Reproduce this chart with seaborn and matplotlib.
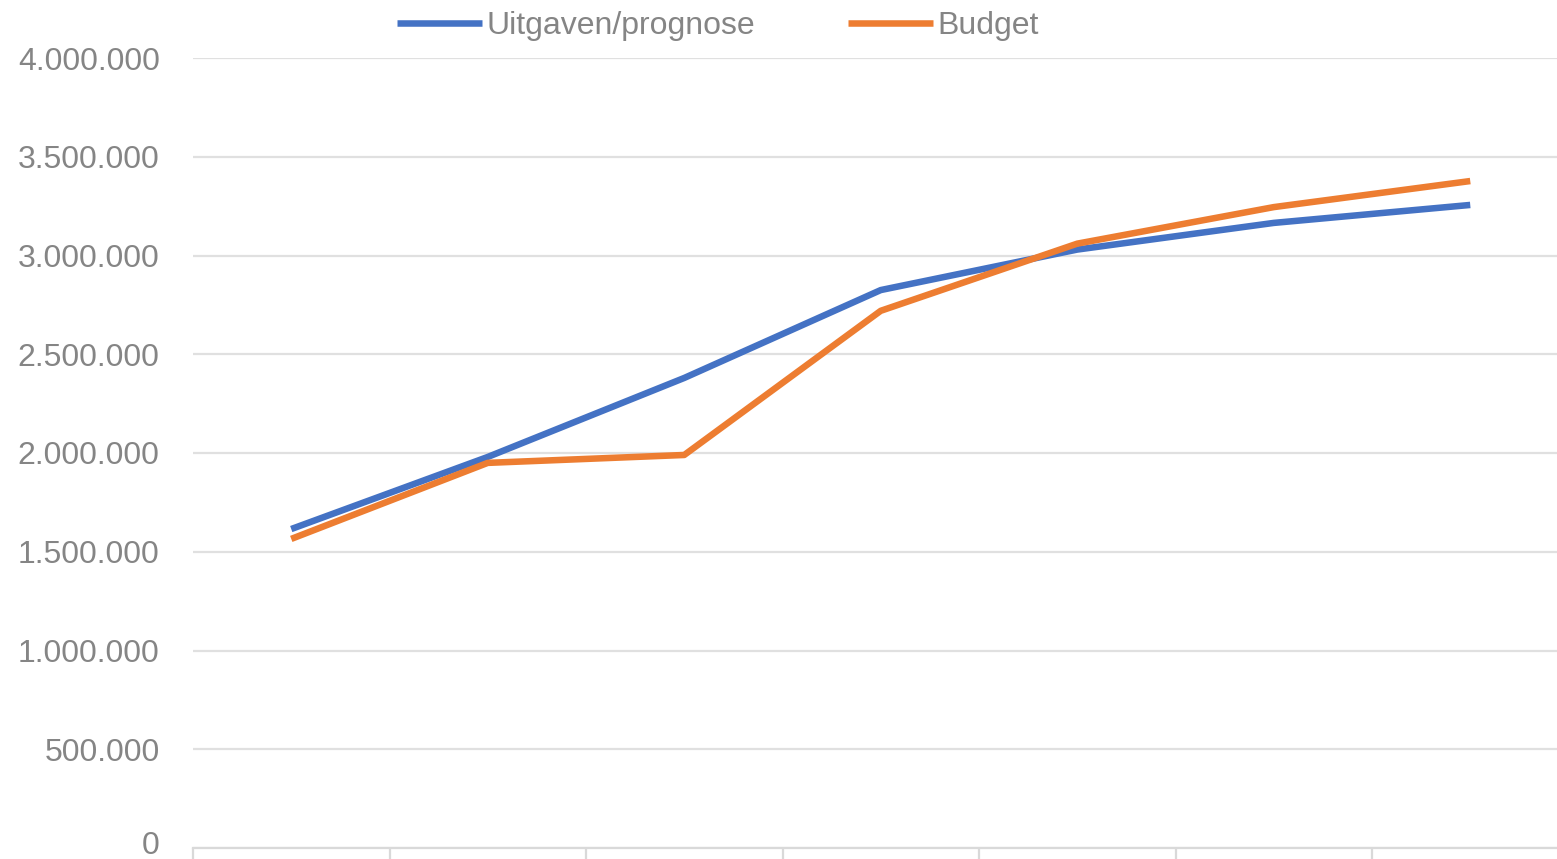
import matplotlib
matplotlib.use("Agg")
import matplotlib.pyplot as plt
from matplotlib.ticker import FuncFormatter, FixedLocator, NullFormatter
from matplotlib.transforms import ScaledTranslation
from matplotlib.lines import Line2D
import seaborn as sns
import pandas as pd

# Data
categories = ["1", "2", "3", "4", "5", "6", "7"]
uitgaven = [1615000, 1980000, 2380000, 2825000, 3030000, 3165000, 3256000]
budget = [1565000, 1950000, 1990000, 2720000, 3060000, 3245000, 3377000]
series_names = ["Uitgaven/prognose", "Budget"]
y_ticks = [0, 500000, 1000000, 1500000, 2000000, 2500000, 3000000, 3500000, 4000000]

df = pd.DataFrame({
    "cat": categories * 2,
    "pos": list(range(len(categories))) * 2,
    "value": uitgaven + budget,
    "series": [series_names[0]] * len(categories) + [series_names[1]] * len(categories),
})

sns.set_theme(style="white")
plt.rcParams["font.family"] = ["Liberation Sans", "DejaVu Sans"]

W, H = 1557, 859
fig = plt.figure(figsize=(W / 100, H / 100), dpi=100)
left, right = 193 / W, 1568.5 / W
bottom, top = (H - 848) / H, (H - 58) / H
ax = fig.add_axes([left, bottom, right - left, top - bottom])

palette = {"Uitgaven/prognose": "#4472C4", "Budget": "#ED7D31"}
sns.lineplot(data=df, x="pos", y="value", hue="series", palette=palette,
             linewidth=4.7, ax=ax, legend=False, sort=False)
for line in ax.lines:
    line.set_solid_capstyle("butt")
    line.set_solid_joinstyle("round")

n = len(categories)
ax.set_xlim(-0.5, n - 0.5)
ax.set_ylim(0, 4000000)
ax.set_yticks(y_ticks)
ax.yaxis.set_major_formatter(FuncFormatter(lambda v, p: f"{int(v):,}".replace(",", ".")))
ax.xaxis.set_major_locator(FixedLocator([i - 0.5 for i in range(n + 1)]))
ax.xaxis.set_major_formatter(NullFormatter())

ax.grid(axis="y", color="#e0e0e0", linewidth=1.6)
ax.grid(axis="x", visible=False)
ax.set_axisbelow(True)
for s in ["top", "right", "left"]:
    ax.spines[s].set_visible(False)
ax.spines["bottom"].set_color("#d9d9d9")
ax.spines["bottom"].set_linewidth(1.6)
ax.tick_params(axis="x", length=8, width=1.6, color="#d9d9d9", bottom=True)
ax.tick_params(axis="y", length=0, pad=24, labelsize=23, labelcolor="#858585")
ax.set_xlabel("")
ax.set_ylabel("")

# nudge the "0" label up slightly so it stays inside the canvas
fig.canvas.draw()
zero_lbl = ax.get_yticklabels()[0]
zero_lbl.set_transform(zero_lbl.get_transform() + ScaledTranslation(0, 6 / 100, fig.dpi_scale_trans))

handles = [Line2D([0], [0], color=palette[s], linewidth=4.7, solid_capstyle="butt") for s in series_names]
fig.legend(handles, series_names, loc="center", bbox_to_anchor=(718 / W, 1 - 26 / H),
           ncol=2, frameon=False, fontsize=23, labelcolor="#858585",
           handlelength=2.65, handletextpad=0.15, columnspacing=2.9, borderpad=0)

fig.savefig("out.png", dpi=100)
